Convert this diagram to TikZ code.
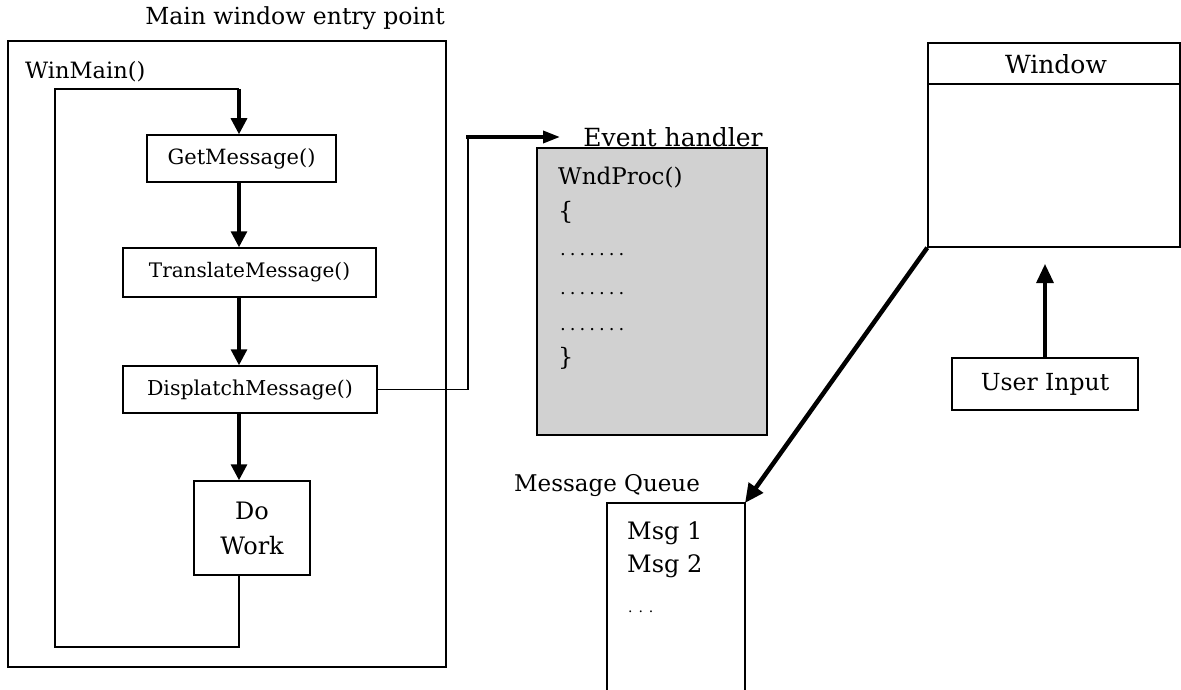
\documentclass[tikz,border=0pt]{standalone}
\usepackage{fontspec}
\setmainfont{DejaVu Serif}
\usetikzlibrary{arrows.meta}
\newcommand\mydotrow{.\hspace{4pt}.\hspace{4pt}.\hspace{4pt}.\hspace{4pt}.\hspace{4pt}.\hspace{4pt}.}
\begin{document}
\begin{tikzpicture}[x=1pt,y=-1pt,
  box/.style={draw, line width=1.5pt, inner sep=0pt, font=\fontsize{21}{26}\selectfont},
  lbl/.style={inner sep=0pt, font=\fontsize{22}{26}\selectfont},
  flow/.style={line width=3.2pt, -{Triangle[length=16pt,width=16pt]}},
  thinline/.style={line width=1.5pt},
  bigflow/.style={line width=4.5pt, -{Triangle[length=19pt,width=17pt]}}]
\useasboundingbox (0,0) rectangle (1181,690);
\fill[white] (0,0) rectangle (1181,690);

% main window box
\node[box, minimum width=438pt, minimum height=626pt] (outer) at (227,354) {};
\node[lbl, font=\fontsize{23.5}{28}\selectfont] (title) at (295,18) {Main window entry point};
\node[lbl, anchor=west, font=\fontsize{22.5}{28}\selectfont] (winmain) at (25,72) {WinMain()};

\node[box, minimum width=189pt, minimum height=47pt] (getmsg) at (241.5,158.5) {GetMessage()};
\node[box, minimum width=253pt, minimum height=49pt, font=\fontsize{20}{24}\selectfont] (trans) at (249.5,272.5) {TranslateMessage()};
\node[box, minimum width=254pt, minimum height=47pt, font=\fontsize{20.5}{24}\selectfont] (disp) at (250,389.5) {DisplatchMessage()};
\node[box, minimum width=116pt, minimum height=94pt, align=center,
      font=\fontsize{24}{35}\selectfont] (dowork) at (252,528) {Do\\Work};

\coordinate (lx) at (239,0);
\coordinate (loopbl) at (55,647);
\coordinate (looptl) at (55,89);

\draw[flow] (getmsg.south -| lx) -- (trans.north -| lx);
\draw[flow] (trans.south -| lx) -- (disp.north -| lx);
\draw[flow] (disp.south -| lx) -- (dowork.north -| lx);
\draw[thinline, line width=2.2pt] (dowork.south -| lx) -- (lx |- loopbl) -- (loopbl) -- (looptl) -- (lx |- looptl);
\draw[flow] (lx |- looptl) -- (getmsg.north -| lx);

% event handler
\node[lbl, font=\fontsize{25}{28}\selectfont] (evlbl) at (673,137) {Event handler};
\node[box, fill=black!18, minimum width=230pt, minimum height=287pt] (evh) at (652,291.5) {};
\node[lbl, anchor=west, font=\fontsize{23}{28}\selectfont] (wndproc) at (558,178) {WndProc()};
\node[lbl, anchor=west, font=\fontsize{24}{28}\selectfont] (ob) at (558,212) {\{};
\node[lbl, anchor=base west, font=\fontsize{18}{22}\selectfont] (d1) at (560,255) {\mydotrow};
\node[lbl, anchor=base west, font=\fontsize{18}{22}\selectfont] (d2) at (560,294) {\mydotrow};
\node[lbl, anchor=base west, font=\fontsize{18}{22}\selectfont] (d3) at (560,330) {\mydotrow};
\node[lbl, anchor=west, font=\fontsize{24}{28}\selectfont] (cb) at (558,358) {\}};

\coordinate (bend1) at (468,389.5);
\coordinate (bend2) at (468,137);
\coordinate (evtip) at (560,137);
\draw[thinline] (disp.east) -- (bend1) -- (bend2);
\draw[line width=3.5pt, -{Triangle[length=17pt,width=12pt]}] ([xshift=-1.7pt]bend2) -- (evtip);

% window
\node[box, minimum width=252pt, minimum height=204pt] (win) at (1054,145) {};
\draw[thinline] (928,84) coordinate (hl) -- (hl -| win.east);
\node[lbl, font=\fontsize{25}{28}\selectfont] (winlbl) at (1056,64) {Window};
\node[box, minimum width=186pt, minimum height=52pt, font=\fontsize{23.5}{26}\selectfont] (ui) at (1045,384) {User Input};
\coordinate (uitip) at (1045,264);
\draw[flow, -{Triangle[length=19pt,width=17pt]}] (ui.north) -- (uitip);

% message queue
\node[lbl, font=\fontsize{23}{26}\selectfont] (mqlbl) at (607,486) {Message Queue};
\coordinate (mqtl) at (607,503);
\coordinate (mqtr) at (745,503);
\draw[thinline] (607,692) -- (mqtl) -- (mqtr) -- (745,692);
\node[lbl, anchor=west, font=\fontsize{24}{28}\selectfont] (m1) at (627,533) {Msg 1};
\node[lbl, anchor=west, font=\fontsize{24}{28}\selectfont] (m2) at (627,566) {Msg 2};
\node[lbl, anchor=base west, font=\fontsize{14}{18}\selectfont] (m3) at (628,612) {. . .};

\draw[bigflow] (win.south west) -- (mqtr);
\end{tikzpicture}
\end{document}
